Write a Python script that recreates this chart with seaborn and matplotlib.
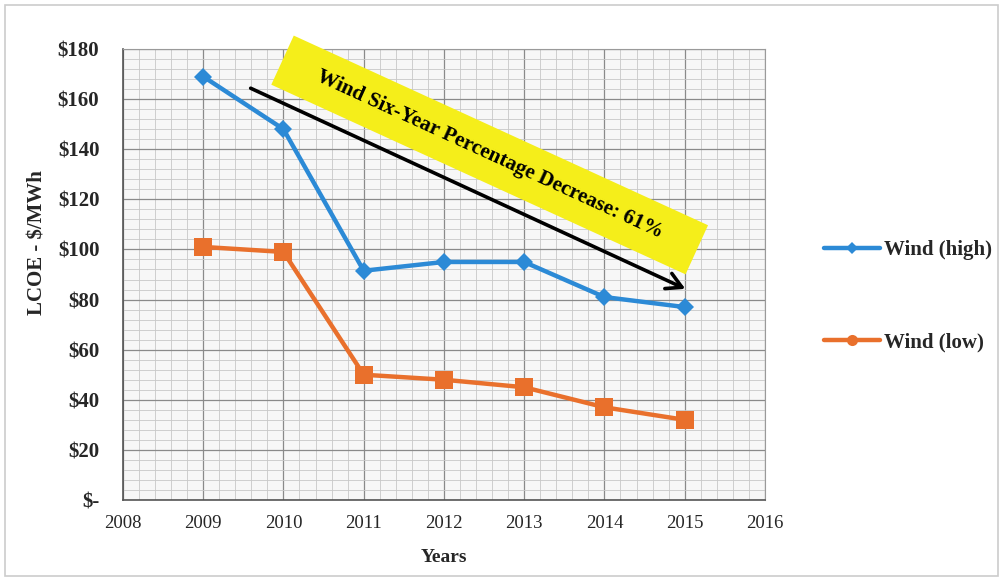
import matplotlib
matplotlib.use("Agg")
import matplotlib.pyplot as plt
import seaborn as sns
import pandas as pd
import numpy as np
from matplotlib.ticker import MultipleLocator, FuncFormatter
from matplotlib.lines import Line2D

years = [2009, 2010, 2011, 2012, 2013, 2014, 2015]
wind_high = [169, 148, 91.5, 95, 95, 81, 77]
wind_low = [101, 99, 50, 48, 45, 37, 32]
series_names = ["Wind (high)", "Wind (low)"]
annotation_text = "Wind Six-Year Percentage Decrease: 61%"

df = pd.DataFrame({
    "Year": years * 2,
    "LCOE": wind_high + wind_low,
    "Series": [series_names[0]] * len(years) + [series_names[1]] * len(years),
})

sns.set_theme(style="white")
plt.rcParams["font.family"] = ["Liberation Serif", "DejaVu Serif"]

blue = "#2C8AD6"
orange = "#E9702C"

fig = plt.figure(figsize=(10.03, 5.81), dpi=100)
ax = fig.add_axes([0.1226, 0.1394, 0.640, 0.7763])

sns.lineplot(data=df, x="Year", y="LCOE", hue="Series", style="Series",
             palette={series_names[0]: blue, series_names[1]: orange},
             markers={series_names[0]: "D", series_names[1]: "s"},
             dashes=False, linewidth=3.2, markersize=11, markeredgewidth=0,
             ax=ax, legend=False, zorder=5)
for line in ax.get_lines():
    if matplotlib.colors.to_hex(line.get_color()) == orange.lower():
        line.set_markersize(13)
    else:
        line.set_markersize(9)

ax.set_xlim(2008, 2016)
ax.set_ylim(0, 180)
ax.xaxis.set_major_locator(MultipleLocator(1))
ax.xaxis.set_minor_locator(MultipleLocator(0.2))
ax.yaxis.set_major_locator(MultipleLocator(20))
ax.yaxis.set_minor_locator(MultipleLocator(4))
ax.yaxis.set_major_formatter(FuncFormatter(lambda v, p: "$-" if v == 0 else f"${int(v)}"))
ax.xaxis.set_major_formatter(FuncFormatter(lambda v, p: f"{int(v)}"))

ax.grid(which="major", color="#8a8a8a", linewidth=0.9)
ax.grid(which="minor", color="#c8c8c8", linewidth=0.6)
ax.set_axisbelow(True)
ax.set_facecolor("#f7f7f7")

for s in ["top", "right"]:
    ax.spines[s].set_color("#9a9a9a")
    ax.spines[s].set_linewidth(0.8)
for s in ["left", "bottom"]:
    ax.spines[s].set_color("#555555")
    ax.spines[s].set_linewidth(1.2)

ax.tick_params(axis="both", which="major", direction="out", length=5, color="#555555", width=1)
ax.tick_params(axis="y", labelsize=15, pad=12)
ax.tick_params(axis="x", labelsize=13.5, pad=6)
for lab in ax.get_yticklabels():
    lab.set_fontweight("bold")

ax.set_xlabel("Years", fontsize=14, fontweight="bold", labelpad=12)
ax.set_ylabel("LCOE - $/MWh", fontsize=15, fontweight="bold")
ax.yaxis.set_label_coords(-0.117, 0.57)

# arrow
ax.annotate("", xy=(2015.04, 83.8), xytext=(2009.56, 164.8),
            arrowprops=dict(arrowstyle="->,head_length=0.9,head_width=0.5",
                            color="black", lw=2.6), zorder=7)

# yellow rotated label
ax.text(2012.57, 137.7, "    " + annotation_text + "    ", rotation=-24.6,
        rotation_mode="anchor", ha="center", va="center", fontsize=15.3,
        fontweight="bold", color="black", zorder=6,
        bbox=dict(boxstyle="square,pad=0.8", facecolor="#F5EE1A", edgecolor="none"))

handles = [Line2D([0], [0], color=blue, lw=3.2, marker="D", markersize=6, markeredgewidth=0),
           Line2D([0], [0], color=orange, lw=3.2, marker="o", markersize=8, markeredgewidth=0)]
fig.legend(handles, series_names, loc="center left", bbox_to_anchor=(0.803, 0.49),
           frameon=False, labelspacing=3.5, handlelength=2.7,
           handletextpad=0.15, prop={"family": "Liberation Serif", "weight": "bold", "size": 15})

fig.patches.append(matplotlib.patches.Rectangle((0.005, 0.008), 0.99, 0.984,
                   transform=fig.transFigure, fill=False, edgecolor="#cccccc", lw=1.2))

fig.savefig("out.png", dpi=100)
